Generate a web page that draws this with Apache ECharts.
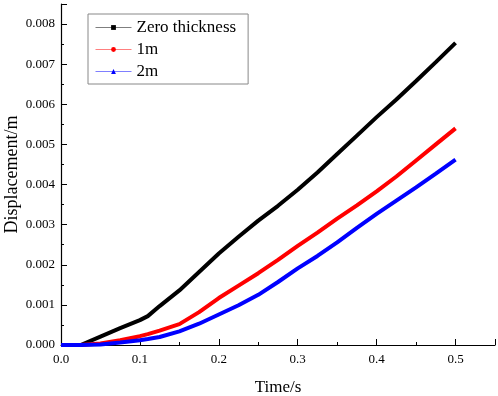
<!DOCTYPE html>
<html>
<head>
<meta charset="utf-8">
<script src="https://cdn.jsdelivr.net/npm/echarts@6/dist/echarts.min.js"></script>
<style>
  html, body { margin: 0; padding: 0; background: #fff; }
  #chart { width: 498px; height: 396px; }
</style>
</head>
<body>
<div id="chart"></div>
<script>
// time steps (s)
const time = [0, 0.025, 0.05, 0.075, 0.1, 0.11, 0.125, 0.15, 0.175, 0.2, 0.225, 0.25,
  0.275, 0.3, 0.325, 0.35, 0.375, 0.4, 0.425, 0.45, 0.475, 0.5];

// displacement (m)
const zeroThickness = [0, 0, 0.00021, 0.00042, 0.00062, 0.00072, 0.00097, 0.00136, 0.00182, 0.00228, 0.0027, 0.0031,
  0.00347, 0.00387, 0.0043, 0.00476, 0.00522, 0.00568, 0.00612, 0.00658, 0.00705, 0.00753];
const oneM = [0, 0, 0.00004, 0.00012, 0.00022, 0.00027, 0.00036, 0.00052, 0.00082, 0.00117, 0.00148, 0.00179,
  0.00212, 0.00247, 0.0028, 0.00315, 0.00348, 0.00383, 0.0042, 0.0046, 0.005, 0.0054];
const twoM = [0, 0, 0.00001, 0.00006, 0.00012, 0.00015, 0.0002, 0.00034, 0.00053, 0.00076, 0.00099, 0.00125,
  0.00157, 0.00191, 0.00222, 0.00256, 0.00292, 0.00327, 0.0036, 0.00393, 0.00427, 0.00462];

const seriesNames = ["Zero thickness", "1m", "2m"];
const seriesColors = ["#000000", "#ff0000", "#0000ff"];
const seriesSymbols = ["rect", "circle", "triangle"];

const xTicks = [0, 0.1, 0.2, 0.3, 0.4, 0.5];

function pairs(values) {
  return time.map((t, i) => [t, values[i]]);
}

const chart = echarts.init(document.getElementById("chart"));
const font = "Liberation Serif, Times New Roman, serif";

chart.setOption({
  animation: false,
  grid: { left: 61, right: 3, top: 4, bottom: 51, outerBoundsMode: "none", containLabel: false },
  legend: {
    left: 88,
    top: 14,
    orient: "vertical",
    padding: [5, 12, 4, 7],
    itemGap: 5,
    itemWidth: 36,
    itemHeight: 6,
    borderColor: "#888",
    borderWidth: 1,
    lineStyle: { width: 1, opacity: 0.5 },
    textStyle: { fontFamily: font, fontSize: 17, color: "#000" },
    data: seriesNames,
  },
  xAxis: {
    type: "value",
    min: 0,
    max: 0.55,
    interval: 0.1,
    name: "Time/s",
    nameLocation: "middle",
    nameGap: 34,
    nameMoveOverlap: false,
    nameTextStyle: { fontFamily: font, fontSize: 17, color: "#000" },
    axisLine: { onZero: false, lineStyle: { color: "#000", width: 1.2 } },
    axisTick: { inside: true, length: 6, lineStyle: { color: "#000" } },
    minorTick: { show: true, splitNumber: 2, length: 3, lineStyle: { color: "#000" } },
    splitLine: { show: false },
    axisLabel: {
      fontFamily: font, fontSize: 13, color: "#000", margin: 8,
      formatter: (v) => (xTicks.some((t) => Math.abs(t - v) < 1e-9) ? v.toFixed(1) : ""),
    },
  },
  yAxis: {
    type: "value",
    min: 0,
    max: 0.0085,
    interval: 0.001,
    name: "Displacement/m",
    nameLocation: "middle",
    nameGap: 40,
    nameMoveOverlap: false,
    nameTextStyle: { fontFamily: font, fontSize: 18, color: "#000" },
    axisLine: { show: true, lineStyle: { color: "#000", width: 1.2 } },
    axisTick: { show: true, inside: true, length: 6, lineStyle: { color: "#000" } },
    minorTick: { show: true, splitNumber: 2, length: 3, lineStyle: { color: "#000" } },
    splitLine: { show: false },
    axisLabel: {
      fontFamily: font, fontSize: 13, color: "#000", margin: 6,
      formatter: (v) => (v > 0.00801 ? "" : v.toFixed(3)),
    },
  },
  series: seriesNames.map((name, i) => ({
    name: name,
    type: "line",
    data: pairs([zeroThickness, oneM, twoM][i]),
    color: seriesColors[i],
    symbol: seriesSymbols[i],
    symbolSize: 6,
    showSymbol: false,
    lineStyle: { width: 4, color: seriesColors[i] },
  })),
});
</script>
</body>
</html>
